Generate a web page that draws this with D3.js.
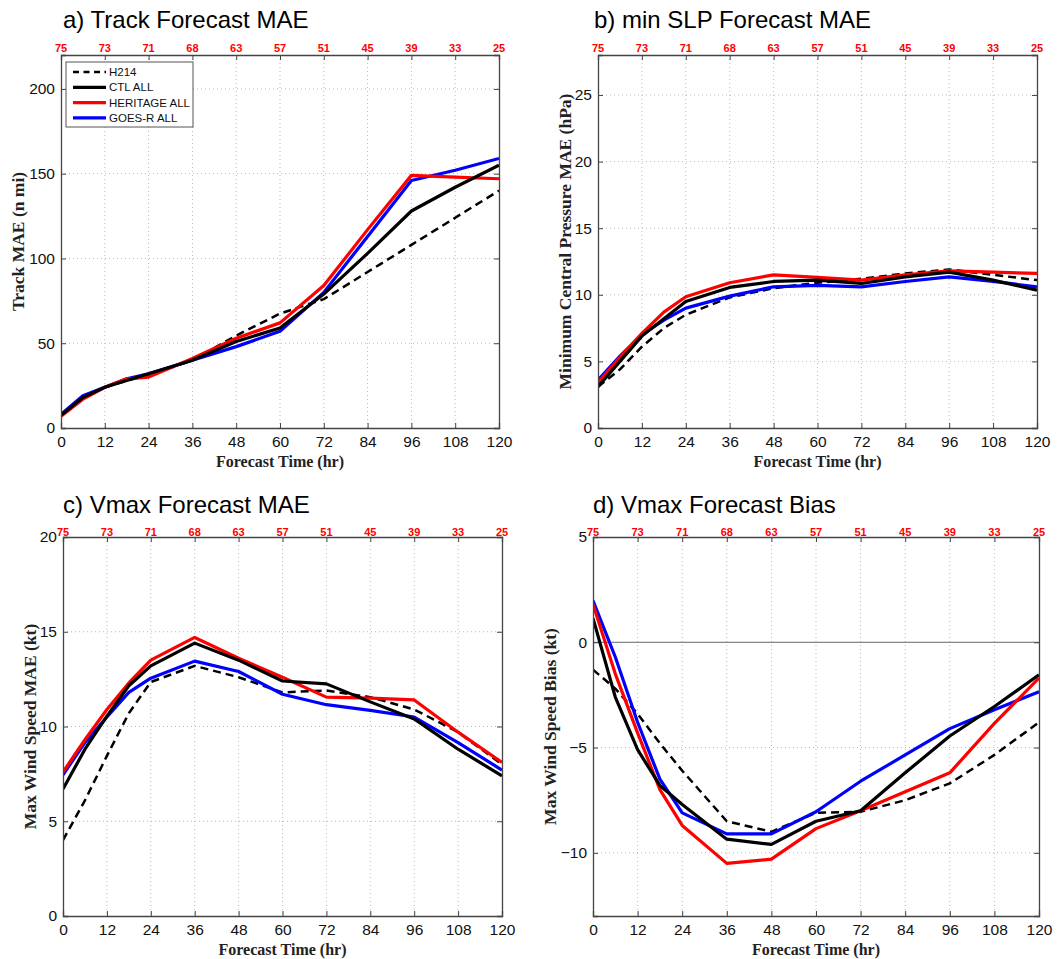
<!DOCTYPE html>
<html><head><meta charset="utf-8">
<script src="https://cdn.jsdelivr.net/npm/d3@7"></script>
<style>body{margin:0;background:#fff}svg{display:block}</style>
</head><body>
<svg id="c" width="1060" height="959"></svg>
<script>
const hours = [0,6,12,18,24,36,48,60,72,84,96,108,120];
const xTicks = [0,12,24,36,48,60,72,84,96,108,120];
const sampleCounts = [75,73,71,68,63,57,51,45,39,33,25];
const seriesNames = ["H214","CTL ALL","HERITAGE ALL","GOES-R ALL"];

const trackH214 = [7.5,18,24,28,31,40,54.5,67.5,76,92,108,124,140];
const trackCTL  = [7.5,18,24,28,32,40,51,59,79,103,128,142,155];
const trackHER  = [7,17,24,29,30,41,53,62,84,117,149,148,147];
const trackGOES = [8,19,24,29,32,40,48,57,80,113,146,152,159];

const slpH214 = [3.1,4.4,6.1,7.5,8.5,9.8,10.5,10.9,11.2,11.6,11.9,11.5,11.1];
const slpCTL  = [3.1,5.0,6.9,8.2,9.5,10.55,11.0,11.1,10.85,11.35,11.7,11.1,10.35];
const slpHER  = [3.4,5.3,7.1,8.7,9.85,10.9,11.5,11.3,11.1,11.5,11.8,11.7,11.6];
const slpGOES = [3.6,5.4,7.0,8.1,9.0,9.9,10.6,10.7,10.6,11.0,11.35,11.0,10.6];

const vmaxH214 = [4.0,6.1,8.45,10.7,12.35,13.2,12.6,11.8,11.9,11.55,10.9,9.7,8.0];
const vmaxCTL  = [6.7,8.8,10.55,12.15,13.2,14.4,13.5,12.4,12.25,11.3,10.4,8.8,7.4];
const vmaxHER  = [7.6,9.3,10.9,12.3,13.5,14.7,13.6,12.6,11.55,11.5,11.4,9.7,8.1];
const vmaxGOES = [7.45,9.15,10.5,11.8,12.55,13.45,12.9,11.7,11.15,10.85,10.5,9.15,7.7];

const biasH214 = [-1.3,-2.2,-3.4,-4.8,-6.1,-8.5,-9.0,-8.1,-8.05,-7.5,-6.7,-5.35,-3.8];
const biasCTL  = [1.15,-2.6,-5.1,-6.8,-7.7,-9.35,-9.6,-8.5,-8.0,-6.2,-4.45,-3.05,-1.55];
const biasHER  = [1.8,-1.5,-4.3,-7.0,-8.7,-10.5,-10.3,-8.85,-8.0,-7.1,-6.2,-3.85,-1.7];
const biasGOES = [1.98,-0.7,-3.8,-6.5,-8.1,-9.1,-9.1,-8.05,-6.6,-5.35,-4.1,-3.2,-2.35];

const trackYTicks = [0,50,100,150,200];
const slpYTicks = [0,5,10,15,20,25];
const vmaxYTicks = [0,5,10,15,20];
const biasYTicks = [-10,-5,0,5];

const styles = [
  {color:"#000", dash:"8,5", w:2.5},
  {color:"#000", dash:null, w:3.2},
  {color:"#ff0000", dash:null, w:3.2},
  {color:"#0000ff", dash:null, w:3.2}
];

const panels = [
  {title:"a) Track Forecast MAE", ylabel:"Track MAE (n mi)", L:61,T:55,R:499,B:428, yd:[0,220], yt:trackYTicks,
   data:[trackH214,trackCTL,trackHER,trackGOES], legend:true, ylx:18, topOff:3, tx:63, ty:28},
  {title:"b) min SLP Forecast MAE", ylabel:"Minimum Central Pressure MAE (hPa)", L:598,T:55,R:1037,B:428, yd:[0,28], yt:slpYTicks,
   data:[slpH214,slpCTL,slpHER,slpGOES], ylx:565, topOff:3, tx:594, ty:28},
  {title:"c) Vmax Forecast MAE", ylabel:"Max Wind Speed MAE (kt)", L:63,T:537,R:502,B:916, yd:[0,20], yt:vmaxYTicks,
   data:[vmaxH214,vmaxCTL,vmaxHER,vmaxGOES], ylx:30, topOff:1, tx:63, ty:513},
  {title:"d) Vmax Forecast Bias", ylabel:"Max Wind Speed Bias (kt)", L:593,T:537,R:1039,B:916, yd:[-13,5], yt:biasYTicks,
   data:[biasH214,biasCTL,biasHER,biasGOES], zero:true, ylx:550, topOff:1, tx:593, ty:513}
];

const svg = d3.select("#c");
const sans = "'Liberation Sans', Arial, Helvetica, sans-serif";
const serif = "'Liberation Serif', 'Times New Roman', Times, serif";

panels.forEach(p => {
  const x = d3.scaleLinear().domain([0,120]).range([p.L,p.R]);
  const y = d3.scaleLinear().domain(p.yd).range([p.B,p.T]);
  const g = svg.append("g");

  g.append("text").attr("x",p.tx).attr("y",p.ty).attr("font-family",sans).attr("font-size",24).attr("fill","#000").text(p.title);

  const grid = g.append("g").attr("stroke","#bbb").attr("stroke-width",1).attr("stroke-dasharray","1,3");
  xTicks.slice(1,-1).forEach(t => grid.append("line").attr("x1",x(t)).attr("x2",x(t)).attr("y1",p.T).attr("y2",p.B));
  p.yt.filter(t => t>p.yd[0] && t<p.yd[1]).forEach(t => grid.append("line").attr("x1",p.L).attr("x2",p.R).attr("y1",y(t)).attr("y2",y(t)));

  if (p.zero) g.append("line").attr("x1",p.L).attr("x2",p.R).attr("y1",y(0)).attr("y2",y(0)).attr("stroke","#888").attr("stroke-width",1.2);

  const clip = "clip"+p.L+"_"+p.T;
  svg.append("clipPath").attr("id",clip).append("rect").attr("x",p.L).attr("y",p.T).attr("width",p.R-p.L).attr("height",p.B-p.T);
  const line = d3.line().x((d,i)=>x(hours[i])).y(d=>y(d));
  [0,3,2,1].forEach(k => {
    const s = styles[k];
    g.append("path").datum(p.data[k]).attr("d",line).attr("fill","none")
      .attr("stroke",s.color).attr("stroke-width",s.w).attr("stroke-dasharray",s.dash)
      .attr("stroke-linejoin","round").attr("clip-path","url(#"+clip+")");
  });

  const xb = d3.axisBottom(x).tickValues(xTicks).tickSize(-5).tickPadding(10);
  const xa = g.append("g").attr("transform",`translate(0,${p.B})`).call(xb);
  const yl = d3.axisLeft(y).tickValues(p.yt).tickSize(-5).tickPadding(6);
  const ya = g.append("g").attr("transform",`translate(${p.L},0)`).call(yl);
  const xt = g.append("g").attr("transform",`translate(0,${p.T})`).call(d3.axisTop(x).tickValues(xTicks).tickSize(-5).tickFormat(()=>""));
  const yr = g.append("g").attr("transform",`translate(${p.R},0)`).call(d3.axisRight(y).tickValues(p.yt).tickSize(-5).tickFormat(()=>""));
  [xa,ya,xt,yr].forEach(a => {
    a.select(".domain").attr("stroke","#444").attr("stroke-width",1.3);
    a.selectAll(".tick line").attr("stroke","#444");
    a.selectAll("text").attr("font-family",sans).attr("font-size",15.5).attr("fill","#111");
  });
  xa.selectAll("text").attr("dy","0.6em");

  const sc = g.append("g");
  xTicks.forEach((t,i) => sc.append("text").attr("x",x(t)).attr("y",p.T-p.topOff).attr("text-anchor","middle")
     .attr("font-family",sans).attr("font-weight","bold").attr("font-size",11).attr("fill","#ff0000").text(sampleCounts[i]));

  g.append("text").attr("x",(p.L+p.R)/2).attr("y",p.B+39).attr("text-anchor","middle")
    .attr("font-family",serif).attr("font-weight","bold").attr("font-size",16).attr("fill","#222").text("Forecast Time (hr)");
  g.append("text").attr("transform",`translate(${p.ylx+6},${(p.T+p.B)/2}) rotate(-90)`).attr("text-anchor","middle")
    .attr("font-family",serif).attr("font-weight","bold").attr("font-size",17.5).attr("fill","#222").text(p.ylabel);

  if (p.legend) {
    const lg = g.append("g");
    lg.append("rect").attr("x",66).attr("y",62).attr("width",127).attr("height",65).attr("fill","#fff").attr("stroke","#555").attr("stroke-width",1);
    seriesNames.forEach((n,k) => {
      const yy = 72 + k*15.3;
      const s = styles[k];
      lg.append("line").attr("x1",73).attr("x2",106).attr("y1",yy).attr("y2",yy).attr("stroke",s.color)
        .attr("stroke-width",s.w).attr("stroke-dasharray",s.dash ? "6,4.5" : null);
      lg.append("text").attr("x",109).attr("y",yy+4).attr("font-family",sans).attr("font-size",11.5).attr("fill","#111").text(n);
    });
  }
});
</script>
</body></html>
